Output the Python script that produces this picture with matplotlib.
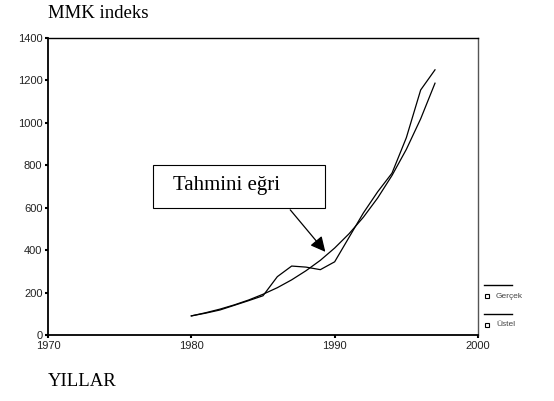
import matplotlib
matplotlib.use('Agg')
import matplotlib.pyplot as plt
from matplotlib.lines import Line2D
from matplotlib.patches import Rectangle

years = list(range(1980, 1998))
gercek = [90, 103, 118, 140, 162, 185, 275, 325, 320, 308, 345, 460, 575, 675, 763, 930, 1155, 1250]
ustel = [90, 105, 122, 142, 165, 192, 223, 260, 303, 352, 410, 477, 555, 646, 752, 875, 1019, 1187]

x_ticks = [1970, 1980, 1990, 2000]
y_ticks = [0, 200, 400, 600, 800, 1000, 1200, 1400]
legend_labels = ['Gerçek', 'Üstel']

serif = 'Liberation Serif'
sans = 'Liberation Sans'

fig = plt.figure(figsize=(5.54, 4.01), dpi=100)
ax = fig.add_axes([48/554, 66/401, 430/554, 297/401])

ax.plot(years, gercek, color='black', lw=0.9)
ax.plot(years, ustel, color='black', lw=0.9)

ax.set_xlim(1970, 2000)
ax.set_ylim(0, 1400)
ax.set_xticks(x_ticks)
ax.set_yticks(y_ticks)
ax.tick_params(direction='out', length=2, width=1.5, labelsize=8, pad=2,
               labelcolor='#222222')
for lab in ax.get_xticklabels() + ax.get_yticklabels():
    lab.set_family(sans)

ax.spines['left'].set_linewidth(1.3)
ax.spines['bottom'].set_linewidth(1.3)
ax.spines['top'].set_linewidth(1.0)
ax.spines['right'].set_linewidth(1.0)
ax.spines['right'].set_color('#555555')

# annotation box + arrow
ax.add_patch(Rectangle((1977.3, 599), 12.0, 203, fc='white', ec='black', lw=0.8,
                       zorder=3))
ax.text(1978.7, 703, 'Tahmini eğri', family=serif, fontsize=15,
        ha='left', va='center', zorder=4)
ax.annotate('', xy=(1989.35, 392), xytext=(1986.9, 590),
            arrowprops=dict(arrowstyle='-|>,head_length=0.9,head_width=0.45',
                            color='black', lw=0.9, shrinkA=0, shrinkB=0))

fig.text(48/554, 1 - 14/401, 'MMK indeks', family=serif, fontsize=13.5,
         ha='left', va='center')
fig.text(48/554, 1 - 381/401, 'YILLAR', family=serif, fontsize=13.5,
         ha='left', va='center')

# legend drawn to the right of the axes
leg_y = [285, 314]
for i, lab in enumerate(legend_labels):
    yl = 1 - leg_y[i]/401
    yt = 1 - (leg_y[i] + 11)/401
    fig.add_artist(Line2D([484/554, 512/554], [yl, yl], color='black', lw=1.0,
                          transform=fig.transFigure))
    fig.add_artist(Line2D([487/554], [yt], marker='s', ms=3.5, mfc='white',
                          mec='black', mew=0.8, transform=fig.transFigure))
    fig.text(496/554, yt, lab, family=sans, fontsize=6, color='#444444',
             ha='left', va='center')

fig.savefig('out.png', dpi=100)
